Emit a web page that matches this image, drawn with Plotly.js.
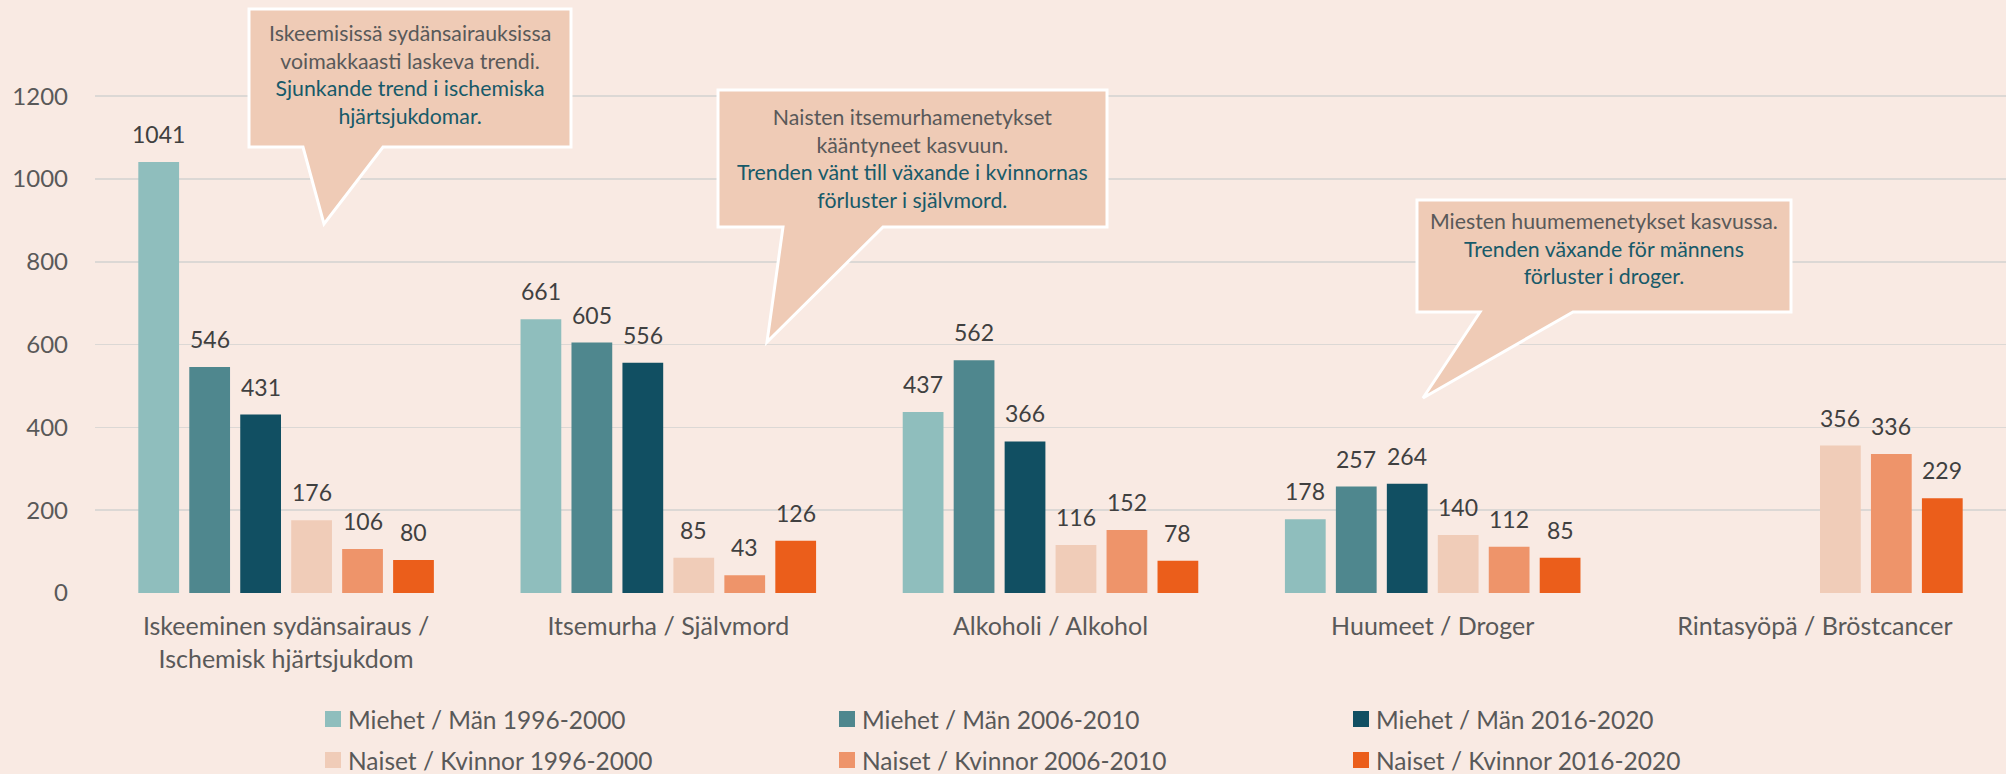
<!DOCTYPE html>
<html>
<head>
<meta charset="utf-8">
<script src="https://cdn.plot.ly/plotly-3.0.1.min.js"></script>
<style>
  html, body { margin: 0; padding: 0; background: #F9EAE3; }
  #chart { width: 2006px; height: 774px; }
</style>
</head>
<body>
<div id="chart"></div>
<script>
// ---------- data ----------
const categories = [
  "Iskeeminen sydänsairaus /<br>Ischemisk hjärtsjukdom",
  "Itsemurha / Självmord",
  "Alkoholi / Alkohol",
  "Huumeet / Droger",
  "Rintasyöpä / Bröstcancer"
];
const seriesNames = [
  "Miehet / Män 1996-2000",
  "Miehet / Män 2006-2010",
  "Miehet / Män 2016-2020",
  "Naiset / Kvinnor 1996-2000",
  "Naiset / Kvinnor 2006-2010",
  "Naiset / Kvinnor 2016-2020"
];
const men1996 = [1041, 661, 437, 178, null];
const men2006 = [546, 605, 562, 257, null];
const men2016 = [431, 556, 366, 264, null];
const women1996 = [176, 85, 116, 140, 356];
const women2006 = [106, 43, 152, 112, 336];
const women2016 = [80, 126, 78, 85, 229];
const yTickVals = [0, 200, 400, 600, 800, 1000, 1200];

const callout1 = ["Iskeemisissä sydänsairauksissa", "voimakkaasti laskeva trendi.",
                  "Sjunkande trend i ischemiska", "hjärtsjukdomar."];
const callout2 = ["Naisten itsemurhamenetykset", "kääntyneet kasvuun.",
                  "Trenden vänt till växande i kvinnornas", "förluster i självmord."];
const callout3 = ["Miesten huumemenetykset kasvussa.",
                  "Trenden växande för männens", "förluster i droger."];

// ---------- style ----------
const colors = ["#8FBEBD", "#4F878E", "#114F62", "#F0CCB8", "#EE946A", "#EB5E1B"];
const BG = "#F9EAE3";
const FONT = "Lato, 'Open Sans', sans-serif";
const W = 2006, H = 774;
const M = {l: 95, r: 0, t: 20, b: 181};
const plotW = W - M.l - M.r, plotH = H - M.t - M.b;
const YMAX = 1384;
const BARGAP = 0.2, BARGROUPGAP = 0.2;

const px2x = px => (px - M.l) / plotW;
const px2y = py => (H - M.b - py) / plotH;

const allSeries = [men1996, men2006, men2016, women1996, women2006, women2016];

const traces = allSeries.map((vals, i) => ({
  type: "bar",
  name: seriesNames[i],
  x: categories,
  y: vals,
  marker: {color: colors[i]},
  showlegend: false,
  hoverinfo: "x+y+name"
}));

// data labels
const slotPx = plotW / categories.length * (1 - BARGAP) / allSeries.length;
const annotations = [];
allSeries.forEach((vals, i) => {
  vals.forEach((v, j) => {
    if (v === null) return;
    annotations.push({
      x: categories[j], y: v, xref: "x", yref: "y",
      xshift: (i - (allSeries.length - 1) / 2) * slotPx,
      yshift: 12,
      yanchor: "bottom", xanchor: "center",
      text: String(v), showarrow: false,
      font: {family: FONT, size: 23, color: "#404040"}
    });
  });
});

// callouts
function pathFrom(pts) {
  return "M" + pts.map(p => px2x(p[0]).toFixed(5) + "," + px2y(p[1]).toFixed(5)).join(" L") + " Z";
}
const shapes = [];
const bubbles = [
  {pts: [[249,9],[571,9],[571,147],[383,147],[324,224],[303,147],[249,147]], cx: 410, cy: 74.5, lines: callout1, nFi: 2},
  {pts: [[718,90],[1107,90],[1107,227],[883,227],[767,342],[783,227],[718,227]], cx: 912.7, cy: 158.3, lines: callout2, nFi: 2},
  {pts: [[1417,200],[1791,200],[1791,312],[1573,312],[1423,398],[1480,312],[1417,312]], cx: 1604, cy: 248.3, lines: callout3, nFi: 1}
];
bubbles.forEach(b => {
  shapes.push({
    type: "path", xref: "paper", yref: "paper", path: pathFrom(b.pts),
    fillcolor: "#EFCBB6", line: {color: "#FFFFFF", width: 3}, layer: "above"
  });
  const txt = b.lines.map((l, k) =>
    `<span style="color:${k < b.nFi ? '#595959' : '#175A69'}">${l}</span>`).join("<br>");
  annotations.push({
    xref: "paper", yref: "paper", x: px2x(b.cx), y: px2y(b.cy),
    xanchor: "center", yanchor: "middle", showarrow: false, align: "center",
    text: txt, font: {family: FONT, size: 21.3, color: "#595959"}
  });
});

// custom legend
const legCols = [325, 839, 1353];
const legRows = [719, 760];
seriesNames.forEach((n, i) => {
  const cx = legCols[i % 3], cy = legRows[Math.floor(i / 3)];
  shapes.push({
    type: "rect", xref: "paper", yref: "paper",
    x0: px2x(cx), x1: px2x(cx + 16), y0: px2y(cy - 8), y1: px2y(cy + 8),
    fillcolor: colors[i], line: {width: 0}
  });
  annotations.push({
    xref: "paper", yref: "paper", x: px2x(cx + 21), y: px2y(cy),
    xanchor: "left", yanchor: "middle", showarrow: false,
    text: n, font: {family: FONT, size: 24.5, color: "#595959"}
  });
});

const layout = {
  width: W, height: H,
  margin: M,
  paper_bgcolor: BG, plot_bgcolor: BG,
  barmode: "group", bargap: BARGAP, bargroupgap: BARGROUPGAP,
  showlegend: false,
  font: {family: FONT, color: "#595959"},
  xaxis: {
    type: "category", tickangle: 0, ticks: "", showgrid: false, zeroline: false,
    showline: false, ticklabelstandoff: 16,
    tickfont: {family: FONT, size: 25, color: "#595959"}
  },
  yaxis: {
    range: [0, YMAX], tickvals: yTickVals, ticks: "",
    showgrid: true, gridcolor: "#DCD8D5", gridwidth: 1.5, zeroline: false,
    showline: false, ticklabelstandoff: 26,
    tickfont: {family: FONT, size: 24, color: "#595959"}
  },
  shapes: shapes,
  annotations: annotations
};

Plotly.newPlot("chart", traces, layout, {displayModeBar: false, staticPlot: true});
</script>
</body>
</html>
